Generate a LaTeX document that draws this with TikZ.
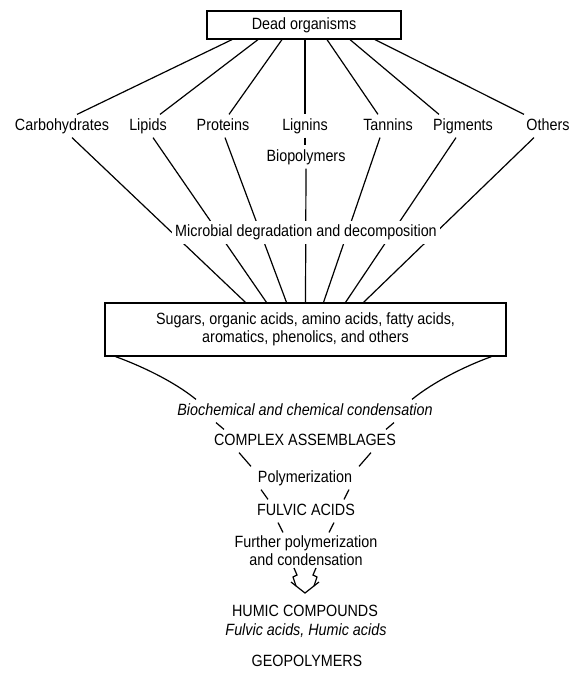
\documentclass[tikz,border=0pt]{standalone}
\usepackage{fontspec}
\setmainfont{Liberation Sans}[FakeStretch=0.88]

\begin{document}
\begin{tikzpicture}[x=1pt, y=-1pt, line width=1.2pt,
	every node/.style={font=\fontsize{16.3}{18}\selectfont},
	etiqueta/.style={inner xsep=3pt, inner ysep=4pt, text height=11pt, text depth=3pt},
	caja/.style={draw, inner sep=0pt, align=center}]
	
	\useasboundingbox (0,0) rectangle (575,673);
	
	% Caja superior
	\node[caja, minimum width=194pt, minimum height=28pt] (muertos) at (304,25) {Dead organisms};
	
	% Biopolimeros
	\foreach \nombre/\texto/\x in {carb/Carbohydrates/62, lip/Lipids/148, prot/Proteins/223, lig/Lignins/305, tan/Tannins/388, pig/Pigments/463, otros/Others/548} {
		\node[etiqueta] (\nombre) at (\x,126) {\texto};
	}
	\node[etiqueta] (bio) at (306,157) {Biopolymers};
	
	% Caja de monomeros
	\node[caja, minimum width=401pt, minimum height=53pt] (azucares) at (305.5,329.5) {Sugars, organic acids, amino acids, fatty acids,\\ aromatics, phenolics, and others};
	
	% Lineas desde la caja superior
	\foreach \nombre/\a/\b in {carb/-72/15, lip/-46/12, prot/-22/6, lig/1/0, tan/23/-10, pig/46/-24, otros/71/-24} {
		\draw ([xshift=\a pt]muertos.south) -- ([xshift=\b pt]\nombre.north);
	}
	
	% Lineas hacia la caja de monomeros
	\draw (lig.south) -- (lig.south |- bio.north);
	\foreach \nombre/\a/\b in {carb/10/-60, lip/5/-39, prot/2/-19, bio/0/0, tan/-8/18, pig/-7/40, otros/-14/58} {
		\draw ([xshift=\a pt]\nombre.south) -- ([xshift=\b pt]azucares.north);
	}
	\node[etiqueta, fill=white, inner ysep=4.5pt] (micro) at (306,232) {Microbial degradation and decomposition};
	
	% Embudo
	\node[etiqueta] (bioq) at (305,411) {\itshape Biochemical and chemical condensation};
	\node[etiqueta] (complejo) at (305,441) {COMPLEX ASSEMBLAGES};
	\node[etiqueta] (poli) at (305,478) {Polymerization};
	\node[etiqueta] (fulvicos) at (306,511) {FULVIC ACIDS};
	\node[inner sep=3pt, align=center] (mas) at (306,551) {Further polymerization\\ and condensation};
	
	\draw ([xshift=-190pt]azucares.south) .. controls +(25,9) and +(-22,-18) .. ([xshift=-109pt]bioq.north);
	\draw ([xshift=186pt]azucares.south) .. controls +(-25,9) and +(22,-18) .. ([xshift=107pt]bioq.north);
	\foreach \s in {-1,1} {
		\draw ([xshift=\s*89pt]bioq.south) -- ([xshift=\s*81pt]complejo.north);
		\draw ([xshift=\s*66pt]complejo.south) -- ([xshift=\s*54pt]poli.north);
		\draw ([xshift=\s*44pt]poli.south) -- ([xshift=\s*38pt]fulvicos.north);
		\draw ([xshift=\s*28pt]fulvicos.south) -- ([xshift=\s*23pt]mas.north);
	}
	
	% Flecha hueca
	\coordinate (punta) at (305,593);
	\draw (punta) ++(-14,-11) -- (punta) -- ++(14,-11);
	\draw (punta) ++(-11,-25) -- ++(3,7) -- ++(-4,2) -- ++(3,9);
	\draw (punta) ++(11,-25) -- ++(-3,7) -- ++(4,2) -- ++(-3,9);
	
	% Productos finales
	\node[etiqueta] (humicos) at (305,612) {HUMIC COMPOUNDS};
	\node[etiqueta] (acidos) at (306,631) {\itshape Fulvic acids, Humic acids};
	\node[etiqueta] (geo) at (307,662) {GEOPOLYMERS};
	
\end{tikzpicture}
\end{document}
